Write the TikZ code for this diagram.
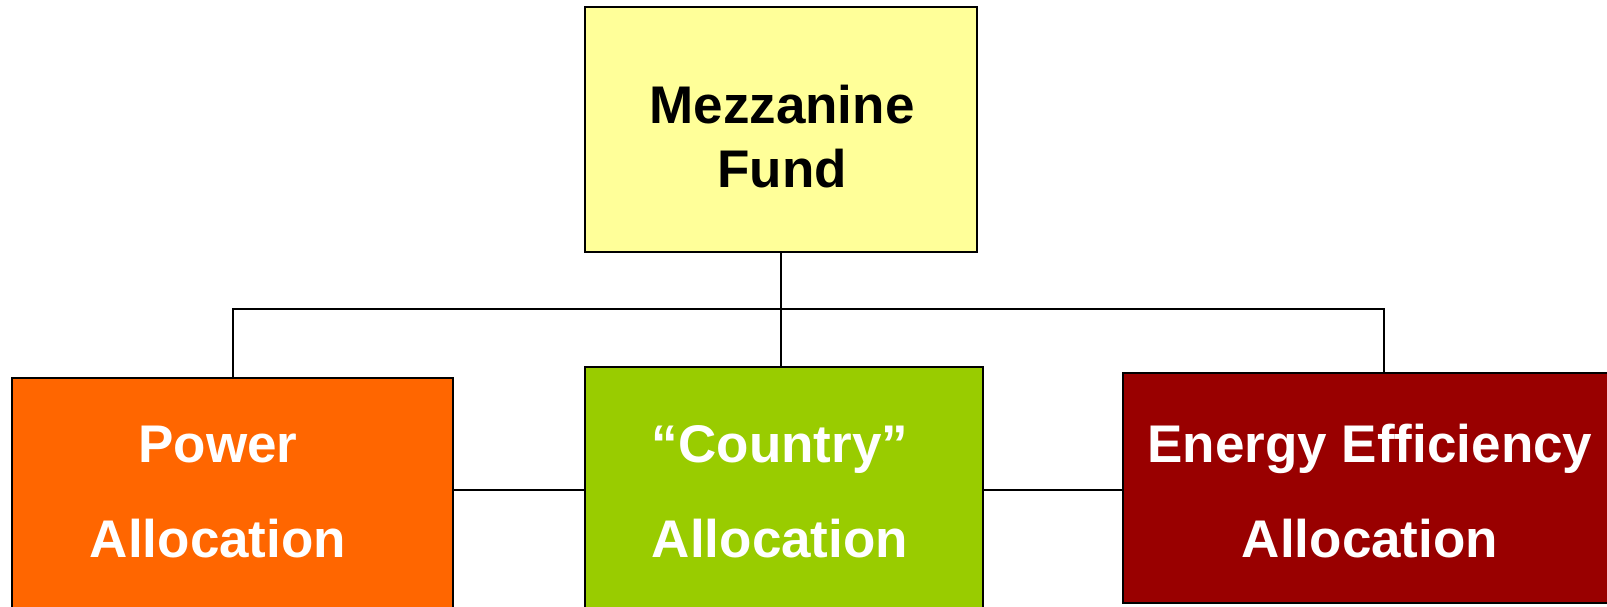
\documentclass[tikz,border=0pt]{standalone}
\usepackage{fontspec}
\setmainfont{Liberation Sans}
\usetikzlibrary{calc}

\definecolor{fundyellow}{HTML}{FFFF99}
\definecolor{powerorange}{HTML}{FF6600}
\definecolor{countrygreen}{HTML}{99CC00}
\definecolor{energyred}{HTML}{990000}

\begin{document}
\begin{tikzpicture}[x=0.5pt,y=-0.5pt,
		box/.style={draw=black,line width=1.1pt,inner sep=0pt,outer sep=0pt},
		lbl/.style={font=\fontsize{26.5}{47.5}\selectfont\bfseries,align=center,anchor=base,inner sep=0pt,text=white},
		link/.style={line width=1pt}]
			\useasboundingbox (0,0) rectangle (1607,606);
			
			\node[box,fill=fundyellow,minimum width=196pt,minimum height=122.5pt] (fund) at (781,129.5) {};
			\node[box,fill=powerorange,minimum width=220.5pt,minimum height=118pt] (power) at (232.5,496) {};
			\node[box,fill=countrygreen,minimum width=199pt,minimum height=122.5pt] (country) at (784,489.5) {};
			\node[box,fill=energyred,minimum width=261pt,minimum height=115pt] (energy) at (1384,488) {};
			
			\node[lbl,text=black,font=\fontsize{26.5}{32}\selectfont\bfseries] (fundtxt) at (782,187) {Mezzanine\\Fund};
			\node[lbl] (powertxt) at (218,557) {Power\\Allocation};
			\node[lbl] (countrytxt) at (780,557) {“Country”\\Allocation};
			\node[lbl] (energytxt) at (1370,557) {Energy Efficiency\\Allocation};
			
			\coordinate (bus) at (783,309);
			\draw[link] (fund.south) -- (fund.south |- country.north);
			\draw[link] (power.north) |- (bus) -| (energy.north);
			\draw[link] (country.west) -- (country.west -| power.east);
			\draw[link] (country.east) -- (country.east -| energy.west);
		\end{tikzpicture}
\end{document}
